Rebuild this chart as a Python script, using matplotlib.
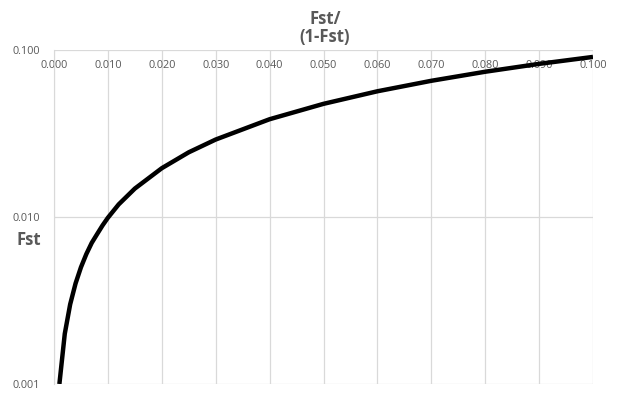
import matplotlib.pyplot as plt
from matplotlib.ticker import FixedLocator, FuncFormatter, NullLocator

# valors llegits del gràfic: Fst/(1-Fst) a l'eix x, Fst a l'eix y (log)
ratio = [0.001, 0.002, 0.003, 0.004, 0.005, 0.006, 0.007, 0.008, 0.009, 0.010,
         0.012, 0.015, 0.020, 0.025, 0.030, 0.040, 0.050, 0.060, 0.070, 0.080,
         0.090, 0.100]
fst = [0.0010, 0.0020, 0.0030, 0.0040, 0.0050, 0.0060, 0.0070, 0.0079, 0.0089, 0.0099,
       0.0119, 0.0148, 0.0196, 0.0244, 0.0291, 0.0385, 0.0476, 0.0566, 0.0654, 0.0741,
       0.0826, 0.0909]
x_ticks = [i / 100 for i in range(11)]
y_ticks = [0.001, 0.01, 0.1]

grey = '#595959'
grid_c = '#d9d9d9'
plt.rcParams['font.family'] = ['Open Sans', 'DejaVu Sans']

fig = plt.figure(figsize=(6.22, 4.0), dpi=100)
ax = fig.add_axes([54 / 622, 1 - 384 / 400, (593 - 54) / 622, (384 - 50) / 400])

ax.plot(ratio, fst, color='black', lw=3.2, solid_capstyle='butt')

ax.set_yscale('log')
ax.set_xlim(0, 0.1)
ax.set_ylim(0.001, 0.1)
ax.xaxis.set_major_locator(FixedLocator(x_ticks))
ax.yaxis.set_major_locator(FixedLocator(y_ticks))
ax.yaxis.set_minor_locator(NullLocator())
ax.xaxis.set_major_formatter(FuncFormatter(lambda v, p: '{:.3f}'.format(v)))
ax.yaxis.set_major_formatter(FuncFormatter(lambda v, p: '{:.3f}'.format(v)))
ax.grid(True, color=grid_c, lw=0.9)
ax.set_axisbelow(True)

for s in ['top', 'right', 'bottom']:
    ax.spines[s].set_visible(False)
ax.spines['left'].set_color(grid_c)

ax.xaxis.tick_top()
ax.tick_params(axis='x', length=0, pad=-15, labelsize=7.8, labelcolor=grey)
ax.tick_params(axis='y', length=0, pad=10, labelsize=7.8, labelcolor=grey)

fig.text(325 / 622, 1 - 28 / 400, 'Fst/\n(1-Fst)', ha='center', va='center',
         fontsize=12, fontweight='bold', color=grey, linespacing=1.0)
fig.text(29 / 622, 1 - 240 / 400, 'Fst', ha='center', va='center',
         fontsize=12, fontweight='bold', color=grey)

fig.savefig('out.png', dpi=100)
